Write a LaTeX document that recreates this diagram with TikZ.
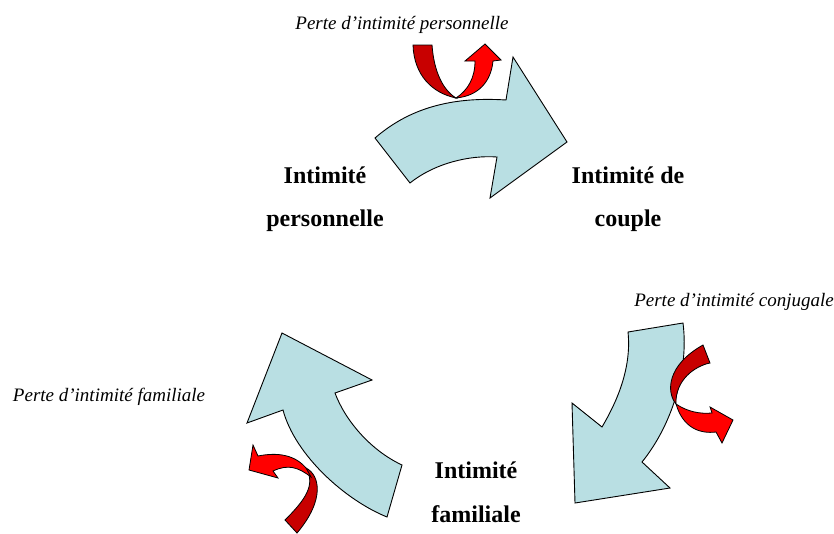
\documentclass[tikz,border=0pt]{standalone}
\usepackage{fontspec}
\setmainfont{Liberation Serif}
\definecolor{lightblu}{HTML}{B9DFE3}
\definecolor{brightred}{HTML}{FF0000}
\definecolor{darkred}{HTML}{C80000}
\tikzset{
  bluearrow/.style={fill=lightblu, draw=black, line width=0.9pt, line join=miter},
  redfront/.style={fill=brightred, draw=black, line width=0.8pt},
  redback/.style={fill=darkred, draw=black, line width=0.8pt},
  boldlbl/.style={font=\fontsize{24}{24}\selectfont\bfseries, anchor=base, inner sep=0pt},
  itlbl/.style={font=\fontsize{19}{19}\selectfont\itshape, anchor=base, inner sep=0pt}
}
\begin{document}
\begin{tikzpicture}[x=1pt,y=-1pt]
\useasboundingbox[fill=white] (0,0) rectangle (834,533);

% top blue arrow
\draw[bluearrow] (375,138) .. controls (405,112) and (445,96) .. (506,100)
  -- (513,57) -- (567,142) -- (490,198) -- (497,157)
  .. controls (470,155) and (435,163) .. (410,183) -- cycle;

% right blue arrow
\draw[bluearrow] (628,332) -- (683,323)
  .. controls (689,370) and (672,425) .. (642,462)
  -- (670,488) -- (575,503) -- (572,403) -- (602,427)
  .. controls (615,405) and (632,370) .. cycle;

% left blue arrow
\draw[bluearrow] (282,333) -- (372,380) -- (335,393)
  .. controls (345,420) and (370,450) .. (402,465)
  -- (387,517)
  .. controls (345,500) and (295,455) .. (283,410)
  -- (247,423) -- cycle;

% top red arrow
\draw[redback] (413,45) -- (432,45) .. controls (434,72) and (443,90) .. (456,98)
  .. controls (432,93) and (414,75) .. cycle;
\draw[redfront] (456,98) .. controls (468,90) and (475,78) .. (475,61)
  -- (465,61) -- (485,44) -- (501,60) -- (493,61)
  .. controls (491,82) and (478,96) .. cycle;

% right red arrow
\draw[redback] (703,345) -- (710,363)
  .. controls (695,366) and (675,380) .. (676,404)
  .. controls (666,392) and (667,365) .. cycle;
\draw[redfront] (676,404) .. controls (688,412) and (700,414) .. (712,413)
  -- (710,407) -- (733,420) -- (722,443) -- (716,432)
  .. controls (700,434) and (683,428) .. cycle;

% left red arrow
\draw[redback] (297,533) -- (285,520)
  .. controls (305,500) and (316,485) .. (306,468)
  .. controls (320,475) and (325,500) .. cycle;
\draw[redfront] (306,468) .. controls (295,455) and (278,452) .. (258,456)
  -- (253,445) -- (249,470) -- (278,478) -- (273,471)
  .. controls (288,464) and (298,467) .. (311,477) -- cycle;

% labels
\node[itlbl] (lpers) at (402,29) {Perte d’intimité personnelle};
\node[itlbl] (lconj) at (734,306) {Perte d’intimité conjugale};
\node[itlbl] (lfam) at (109,401) {Perte d’intimité familiale};

\node[boldlbl] (ip1) at (325,183) {Intimité};
\node[boldlbl] (ip2) at (325,226) {personnelle};
\node[boldlbl] (ic1) at (628,183) {Intimité de};
\node[boldlbl] (ic2) at (628,226) {couple};
\node[boldlbl] (if1) at (476,478) {Intimité};
\node[boldlbl] (if2) at (476,522) {familiale};
\end{tikzpicture}
\end{document}
